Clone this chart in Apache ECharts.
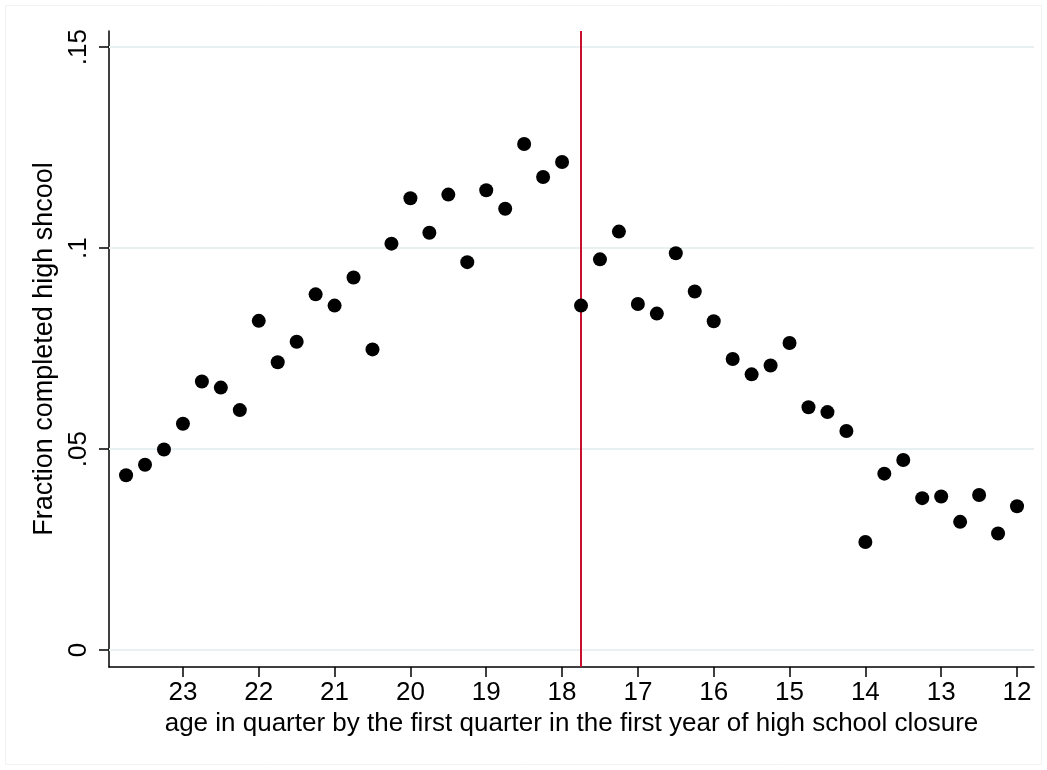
<!DOCTYPE html>
<html>
<head>
<meta charset="utf-8">
<title>Fraction completed high school by age</title>
<script src="https://cdn.jsdelivr.net/npm/echarts@6/dist/echarts.min.js"></script>
<style>
  html, body { margin: 0; padding: 0; background: #ffffff; }
  #chart { width: 1047px; height: 770px; }
</style>
</head>
<body>
<div id="chart"></div>
<script>
// Age in quarters at the start of the first closure year
const ages = [
  23.75, 23.5, 23.25, 23, 22.75, 22.5, 22.25, 22, 21.75, 21.5, 21.25, 21,
  20.75, 20.5, 20.25, 20, 19.75, 19.5, 19.25, 19, 18.75, 18.5, 18.25, 18,
  17.75, 17.5, 17.25, 17, 16.75, 16.5, 16.25, 16, 15.75, 15.5, 15.25, 15,
  14.75, 14.5, 14.25, 14, 13.75, 13.5, 13.25, 13, 12.75, 12.5, 12.25, 12
];
// Share of each cohort that completed high school
const fractions = [
  0.0435, 0.0461, 0.0499, 0.0563, 0.0668, 0.0653, 0.0597, 0.0819, 0.0716, 0.0767, 0.0885, 0.0857,
  0.0927, 0.0748, 0.1011, 0.1124, 0.1038, 0.1133, 0.0965, 0.1144, 0.1098, 0.1259, 0.1177, 0.1214,
  0.0857, 0.0972, 0.1041, 0.0861, 0.0837, 0.0987, 0.0892, 0.0818, 0.0724, 0.0686, 0.0708, 0.0764,
  0.0604, 0.0592, 0.0545, 0.0269, 0.0439, 0.0473, 0.0378, 0.0382, 0.0319, 0.0386, 0.0290, 0.0358
];
const xTicks = [12, 13, 14, 15, 16, 17, 18, 19, 20, 21, 22, 23];
const yTicks = [0, 0.05, 0.1, 0.15];
const yTickLabels = ['0', '.05', '.1', '.15'];
const cutoffAge = 17.75;

const FONT = '"Liberation Sans", Arial, Helvetica, sans-serif';
const chart = echarts.init(document.getElementById('chart'), null, { renderer: 'canvas' });

const points = ages.map((a, i) => [a, fractions[i]]);

chart.setOption({
  animation: false,
  backgroundColor: '#ffffff',
  graphic: [{
    type: 'rect',
    shape: { x: 5.5, y: 5.5, width: 1036, height: 759 },
    style: { fill: 'none', stroke: '#f2f2f2', lineWidth: 1 },
    silent: true,
    z: -10
  }],
  grid: { left: 109, right: 13, top: 31, bottom: 103 },
  xAxis: {
    type: 'value',
    inverse: true,
    min: 11.776,
    max: 23.975,
    name: 'age in quarter by the first quarter in the first year of high school closure',
    nameLocation: 'middle',
    nameGap: 43,
    nameTextStyle: { fontFamily: FONT, fontSize: 26, color: '#000' },
    axisLine: { show: true, onZero: false, lineStyle: { color: '#000', width: 1.5 } },
    axisTick: { show: true, length: 10, customValues: xTicks, lineStyle: { color: '#000', width: 1.5 } },
    axisLabel: {
      customValues: xTicks,
      margin: 13,
      fontFamily: FONT, fontSize: 26, color: '#000',
      formatter: v => String(v)
    },
    splitLine: { show: false }
  },
  yAxis: {
    type: 'value',
    min: -0.0042,
    max: 0.154,
    name: 'Fraction completed high shcool',
    nameLocation: 'middle',
    nameGap: 45,
    nameRotate: 90,
    nameTextStyle: { fontFamily: FONT, fontSize: 27, color: '#000' },
    axisLine: { show: true, onZero: false, lineStyle: { color: '#000', width: 1.5 } },
    axisTick: { show: true, length: 10, customValues: yTicks, lineStyle: { color: '#000', width: 1.5 } },
    axisLabel: {
      customValues: yTicks,
      rotate: 90,
      margin: 17,
      fontFamily: FONT, fontSize: 26, color: '#000',
      formatter: v => {
        const i = yTicks.findIndex(t => Math.abs(t - v) < 1e-9);
        return i >= 0 ? yTickLabels[i] : '';
      }
    },
    splitLine: { show: false }
  },
  series: [
    {
      // horizontal reference lines at each y tick
      type: 'scatter',
      data: [],
      silent: true,
      z: 1,
      markLine: {
        silent: true,
        symbol: ['none', 'none'],
        label: { show: false },
        lineStyle: { color: '#e8f0f1', width: 2, type: 'solid' },
        data: yTicks.map(t => ({ yAxis: t }))
      }
    },
    {
      // vertical line at the closure cutoff
      type: 'scatter',
      data: [],
      silent: true,
      z: 2,
      markLine: {
        silent: true,
        symbol: ['none', 'none'],
        label: { show: false },
        lineStyle: { color: '#c8102e', width: 2, type: 'solid' },
        data: [{ xAxis: cutoffAge }]
      }
    },
    {
      type: 'scatter',
      data: points,
      symbol: 'circle',
      symbolSize: 14,
      itemStyle: { color: '#000000', opacity: 1 },
      z: 5
    }
  ]
});
</script>
</body>
</html>
